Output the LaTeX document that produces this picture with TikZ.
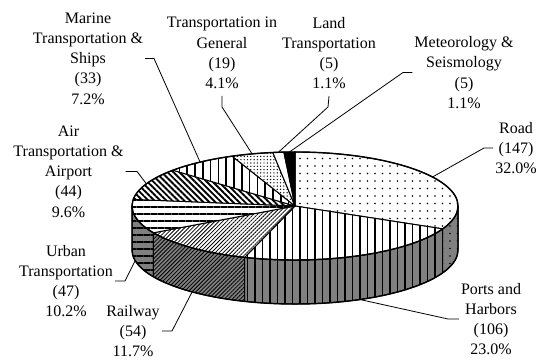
\documentclass[tikz,border=0pt]{standalone}
\usepackage{fontspec}
\setmainfont{Liberation Serif}
\usetikzlibrary{patterns.meta,calc}
\newcommand\PieTop[3]{%
  \path[#1] (C) -- ($(C)+(#2:163pt and 54pt)$)
    arc[start angle=#2,end angle=#3,x radius=163pt,y radius=54pt] -- cycle;}
\newcommand\PieSide[3]{%
  \path[#1] ($(C)+(#2:163pt and 54pt)$)
    arc[start angle=#2,end angle=#3,x radius=163pt,y radius=54pt] -- ++(0,-44)
    arc[start angle=#3,end angle=#2,x radius=163pt,y radius=54pt] -- cycle;}
\begin{document}
\begin{tikzpicture}[x=1pt,y=1pt,
  lbl/.style={align=center,font=\fontsize{16}{20.25}\selectfont,inner sep=2pt},
  leader/.style={draw=black,line width=0.8pt},
  slice/.style={draw=black,line width=1pt,line join=round},
  sidecol/.style={preaction={fill=black!50}},
  pRoadpat/.style={pattern={Dots[distance=7.5pt,radius=0.95pt]},pattern color=black},
  pPortspat/.style={pattern={Lines[angle=90,distance=7.5pt,line width=1.3pt]},pattern color=black},
  pRailpat/.style={pattern={Lines[angle=45,distance=2.8pt,line width=0.8pt]},pattern color=black},
  pUrbpat/.style={pattern={Lines[angle=0,distance=7pt,line width=1.3pt]},pattern color=black},
  pAirpat/.style={pattern={Lines[angle=-45,distance=4.2pt,line width=1.9pt]},pattern color=black},
  pMarpat/.style={pattern={Lines[angle=90,distance=7.8pt,line width=1.5pt]},pattern color=black},
  pGenpat/.style={pattern={Dots[distance=3.3pt,radius=0.7pt]},pattern color=black},
]
\useasboundingbox (0,0) rectangle (537,361);
\fill[white] (0,0) rectangle (537,361);
\coordinate (C) at (295,155);
% sides
\PieSide{sidecol,pUrbpat,slice}{180}{209.74}
\PieSide{sidecol,pRailpat,slice}{209.74}{252.0}
\PieSide{sidecol,pPortspat,slice}{252.0}{334.96}
\PieSide{sidecol,pRoadpat,slice}{334.96}{360}
% top
\PieTop{preaction={fill=white},pRoadpat,slice}{334.96}{450}
\PieTop{preaction={fill=white},pPortspat,slice}{252.0}{334.96}
\PieTop{preaction={fill=white},pRailpat,slice}{209.74}{252.0}
\PieTop{preaction={fill=white},pUrbpat,slice}{172.96}{209.74}
\PieTop{preaction={fill=white},pAirpat,slice}{138.52}{172.96}
\PieTop{preaction={fill=white},pMarpat,slice}{112.70}{138.52}
\PieTop{preaction={fill=white},pGenpat,slice}{97.83}{112.70}
\PieTop{fill=white,slice}{93.91}{97.83}
\PieTop{fill=black,slice}{90}{93.91}
% outline
\draw[line width=1.4pt] (C) ellipse[x radius=163pt,y radius=54pt];
\draw[line width=1.4pt,line join=round] ($(C)+(-163,0)$) -- ++(0,-44)
  arc[start angle=180,end angle=360,x radius=163pt,y radius=54pt] -- ++(0,44);
% anchors on the pie
\coordinate (pRoad) at ($(C)+(32.48:163pt and 54pt)$);
\coordinate (pPorts) at ($(C)+(0,-44)+(-66.52:163pt and 54pt)$);
\coordinate (pRail) at ($(C)+(0,-44)+(-129.13:163pt and 54pt)$);
\coordinate (pUrb) at ($(C)+(0,-44)+(-168.65:163pt and 54pt)$);
\coordinate (pAir) at ($(C)+(155.74:163pt and 54pt)$);
\coordinate (pMar) at ($(C)+(125.61:163pt and 54pt)$);
\coordinate (pGen) at ($(C)+(105.26:163pt and 54pt)$);
\coordinate (pLand) at ($(C)+(95.87:163pt and 54pt)$);
\coordinate (pMet) at ($(C)+(91.96:163pt and 54pt)$);
% labels
\node[lbl] (lMar) at (88,302.5) {Marine\\Transportation \&\\Ships\\(33)\\7.2\%};
\node[lbl,inner ysep=7pt] (lGen) at (222,308) {Transportation in\\General\\(19)\\4.1\%};
\node[lbl,inner ysep=7pt] (lLand) at (329,308) {Land\\Transportation\\(5)\\1.1\%};
\node[lbl] (lMet) at (464,288.5) {Meteorology \&\\Seismology\\(5)\\1.1\%};
\node[lbl] (lRoad) at (516,213) {Road\\(147)\\32.0\%};
\node[lbl] (lPorts) at (491,42) {Ports and\\Harbors\\(106)\\23.0\%};
\node[lbl] (lRail) at (133,30) {Railway\\(54)\\11.7\%};
\node[lbl] (lUrb) at (66,80) {Urban\\Transportation\\(47)\\10.2\%};
\node[lbl] (lAir) at (68.5,189.5) {Air\\Transportation \&\\Airport\\(44)\\9.6\%};
% elbows
\coordinate (eRoad) at (484,213);
\coordinate (ePorts) at (448,42);
\coordinate (eRail) at (172,30);
\coordinate (eUrb) at (125,80);
\coordinate (eAir) at (137,189.5);
\coordinate (eMar) at (154,302.5);
\coordinate (eGen) at (222,254);
\coordinate (eLand) at (328,254);
\coordinate (eMet) at (403,288.5);
% leaders
\draw[leader] (pRoad) -- (eRoad) -- (lRoad.west);
\draw[leader] (pPorts) -- (ePorts) -- (lPorts.west);
\draw[leader] (pRail) -- (eRail) -- (lRail.east);
\draw[leader] (pUrb) -- (eUrb) -- (lUrb.east);
\draw[leader] (pAir) -- (eAir) -- (lAir.east);
\draw[leader] (pMar) -- (eMar) -- (lMar.east);
\draw[leader] (pGen) -- (eGen) -- (lGen.south);
\draw[leader] (pLand) -- (eLand) -- (lLand.south);
\draw[leader] (pMet) -- (eMet) -- (lMet.west);
\end{tikzpicture}
\end{document}
